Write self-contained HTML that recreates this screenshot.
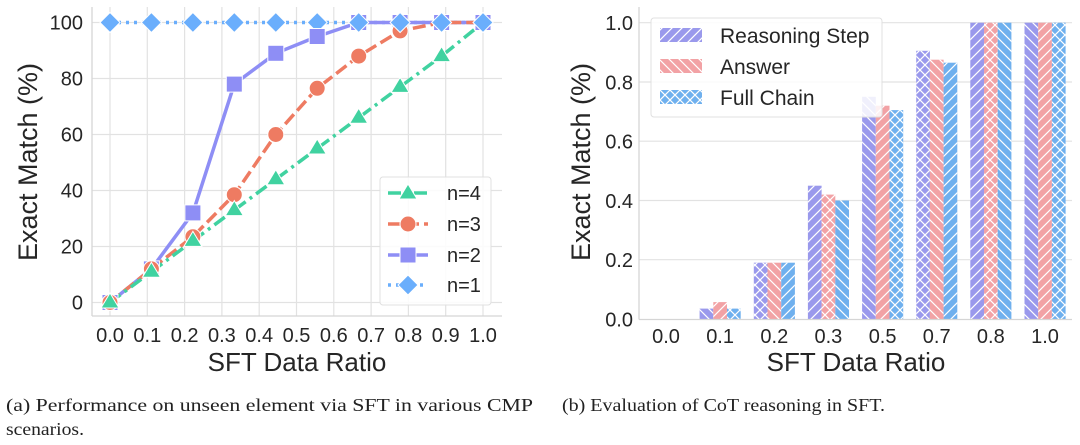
<!DOCTYPE html>
<html><head><meta charset="utf-8"><style>
html,body{margin:0;padding:0;background:#fff;width:1080px;height:445px;overflow:hidden}
svg{display:block}
.t{font-family:"Liberation Sans",sans-serif;fill:#262626}
.c{font-family:"Liberation Serif",serif;fill:#222;font-size:18px}
</style></head><body>
<svg width="1080" height="445" viewBox="0 0 1080 445" xmlns="http://www.w3.org/2000/svg">
<defs>
<pattern id="pf" patternUnits="userSpaceOnUse" width="10" height="10"><path d="M-2,2 L2,-2 M0,10 L10,0 M8,12 L12,8" stroke="#fff" stroke-width="1.2"/></pattern>
<pattern id="pb" patternUnits="userSpaceOnUse" width="10" height="10"><path d="M-2,8 L2,12 M0,0 L10,10 M8,-2 L12,2" stroke="#fff" stroke-width="1.2"/></pattern>
<pattern id="px" patternUnits="userSpaceOnUse" width="10" height="10"><path d="M-2,2 L2,-2 M0,10 L10,0 M8,12 L12,8 M-2,8 L2,12 M0,0 L10,10 M8,-2 L12,2" stroke="#fff" stroke-width="1.2"/></pattern>
</defs>

<!-- LEFT CHART -->
<g stroke="#e2e2e2" stroke-width="1.2">
<line x1="92" y1="302.5" x2="502" y2="302.5"/><line x1="92" y1="246.5" x2="502" y2="246.5"/><line x1="92" y1="190.5" x2="502" y2="190.5"/><line x1="92" y1="134.5" x2="502" y2="134.5"/><line x1="92" y1="78.5" x2="502" y2="78.5"/><line x1="92" y1="22.5" x2="502" y2="22.5"/>
<line x1="110" y1="7" x2="110" y2="316"/><line x1="147.3" y1="7" x2="147.3" y2="316"/><line x1="184.6" y1="7" x2="184.6" y2="316"/><line x1="221.9" y1="7" x2="221.9" y2="316"/><line x1="259.2" y1="7" x2="259.2" y2="316"/><line x1="296.5" y1="7" x2="296.5" y2="316"/><line x1="333.8" y1="7" x2="333.8" y2="316"/><line x1="371.1" y1="7" x2="371.1" y2="316"/><line x1="408.4" y1="7" x2="408.4" y2="316"/><line x1="445.7" y1="7" x2="445.7" y2="316"/><line x1="483" y1="7" x2="483" y2="316"/>
</g>
<g stroke="#d5d5d5" stroke-width="1.3"><line x1="92" y1="7" x2="92" y2="316"/><line x1="92" y1="316" x2="502" y2="316"/></g>

<g fill="none" stroke-width="3.5">
<polyline stroke="#6aaefc" stroke-dasharray="3,5" points="110,22.5 483,22.5"/>
<polyline stroke="#8e8ef5" points="110,302.5 151.4,268.9 192.9,212.9 234.3,84.1 275.8,53.3 317.2,36.5 358.7,22.5 400.1,22.5 441.6,22.5 483,22.5"/>
<polyline stroke="#ee7b62" stroke-dasharray="13,5" points="110,302.5 151.4,268.9 192.9,236.7 234.3,194.7 275.8,134.5 317.2,88.3 358.7,56.1 400.1,30.9 441.6,22.5 483,22.5"/>
<polyline stroke="#40d2a0" stroke-dasharray="13,5,3,5" points="110,302.5 151.4,271.7 192.9,240.9 234.3,210.1 275.8,179.3 317.2,148.5 358.7,117.7 400.1,86.9 441.6,56.1 483,22.5"/>
</g>
<g stroke="#fff" stroke-width="1">
<g fill="#6aaefc"><path d="M110,12.5l10,10-10,10-10-10z"/><path d="M151.4,12.5l10,10-10,10-10-10z"/><path d="M192.9,12.5l10,10-10,10-10-10z"/><path d="M234.3,12.5l10,10-10,10-10-10z"/><path d="M275.8,12.5l10,10-10,10-10-10z"/><path d="M317.2,12.5l10,10-10,10-10-10z"/></g>
<g fill="#8e8ef5"><rect x="102" y="294.5" width="16" height="16"/><rect x="143.4" y="260.9" width="16" height="16"/><rect x="184.9" y="204.9" width="16" height="16"/><rect x="226.3" y="76.1" width="16" height="16"/><rect x="267.8" y="45.3" width="16" height="16"/><rect x="309.2" y="28.5" width="16" height="16"/><rect x="350.7" y="14.5" width="16" height="16"/><rect x="392.1" y="14.5" width="16" height="16"/><rect x="433.6" y="14.5" width="16" height="16"/><rect x="475" y="14.5" width="16" height="16"/></g>
<g fill="#ee7b62"><circle cx="110" cy="302.5" r="8"/><circle cx="151.4" cy="268.9" r="8"/><circle cx="192.9" cy="236.7" r="8"/><circle cx="234.3" cy="194.7" r="8"/><circle cx="275.8" cy="134.5" r="8"/><circle cx="317.2" cy="88.3" r="8"/><circle cx="358.7" cy="56.1" r="8"/><circle cx="400.1" cy="30.9" r="8"/></g>
<g fill="#40d2a0"><path d="M110,293l9,15h-18z"/><path d="M151.4,262.2l9,15h-18z"/><path d="M192.9,231.4l9,15h-18z"/><path d="M234.3,200.6l9,15h-18z"/><path d="M275.8,169.8l9,15h-18z"/><path d="M317.2,139l9,15h-18z"/><path d="M358.7,108.2l9,15h-18z"/><path d="M400.1,77.4l9,15h-18z"/><path d="M441.6,46.6l9,15h-18z"/></g>
<g fill="#6aaefc"><path d="M358.7,12.5l10,10-10,10-10-10z"/><path d="M400.1,12.5l10,10-10,10-10-10z"/><path d="M441.6,12.5l10,10-10,10-10-10z"/><path d="M483,12.5l10,10-10,10-10-10z"/></g>
</g>

<g class="t" font-size="20" text-anchor="end">
<text x="83" y="309.5">0</text><text x="83" y="253.5">20</text><text x="83" y="197.5">40</text><text x="83" y="141.5">60</text><text x="83" y="85.5">80</text><text x="83" y="29.5">100</text>
</g>
<g class="t" font-size="20" text-anchor="middle">
<text x="110" y="342">0.0</text><text x="147.3" y="342">0.1</text><text x="184.6" y="342">0.2</text><text x="221.9" y="342">0.3</text><text x="259.2" y="342">0.4</text><text x="296.5" y="342">0.5</text><text x="333.8" y="342">0.6</text><text x="371.1" y="342">0.7</text><text x="408.4" y="342">0.8</text><text x="445.7" y="342">0.9</text><text x="483" y="342">1.0</text>
</g>
<text class="t" font-size="26" text-anchor="middle" x="297" y="371">SFT Data Ratio</text>
<text class="t" font-size="27" text-anchor="middle" transform="translate(37,162) rotate(-90)">Exact Match (%)</text>

<rect x="380" y="177" width="111" height="128" rx="3" fill="#fff" fill-opacity="0.85" stroke="#e0e0e0"/>
<g fill="none" stroke-width="3.5">
<line x1="388" y1="193" x2="428" y2="193" stroke="#40d2a0" stroke-dasharray="13,5,3,5"/>
<line x1="388" y1="224" x2="428" y2="224" stroke="#ee7b62" stroke-dasharray="13,5"/>
<line x1="388" y1="255" x2="428" y2="255" stroke="#8e8ef5"/>
<line x1="388" y1="285" x2="428" y2="285" stroke="#6aaefc" stroke-dasharray="3,5"/>
</g>
<g stroke="#fff" stroke-width="1">
<path d="M408,184l9,15h-18z" fill="#40d2a0"/>
<circle cx="408" cy="224" r="8" fill="#ee7b62"/>
<rect x="400" y="247" width="16" height="16" fill="#8e8ef5"/>
<path d="M408,275l10,10-10,10-10-10z" fill="#6aaefc"/>
</g>
<g class="t" font-size="20"><text x="447" y="200">n=4</text><text x="447" y="231">n=3</text><text x="447" y="262">n=2</text><text x="447" y="292">n=1</text></g>

<!-- RIGHT CHART -->
<g stroke="#e2e2e2" stroke-width="1.2">
<line x1="639" y1="259.7" x2="1072" y2="259.7"/><line x1="639" y1="200.5" x2="1072" y2="200.5"/><line x1="639" y1="141.2" x2="1072" y2="141.2"/><line x1="639" y1="82" x2="1072" y2="82"/><line x1="639" y1="22.7" x2="1072" y2="22.7"/>
</g>

<g>
<rect x="699.6" y="308.6" width="13.7" height="10.4" fill="#9a99ec"/><rect x="699.6" y="308.6" width="13.7" height="10.4" fill="url(#pb)"/>
<rect x="713.3" y="302.1" width="13.7" height="16.9" fill="#f2a2a5"/><rect x="713.3" y="302.1" width="13.7" height="16.9" fill="url(#pf)"/>
<rect x="727" y="308.6" width="13.7" height="10.4" fill="#6fb0ee"/><rect x="727" y="308.6" width="13.7" height="10.4" fill="url(#px)"/>
<rect x="753.8" y="262.7" width="13.7" height="56.3" fill="#9a99ec"/><rect x="753.8" y="262.7" width="13.7" height="56.3" fill="url(#px)"/>
<rect x="767.5" y="262.7" width="13.7" height="56.3" fill="#f2a2a5"/><rect x="767.5" y="262.7" width="13.7" height="56.3" fill="url(#pb)"/>
<rect x="781.2" y="262.7" width="13.7" height="56.3" fill="#6fb0ee"/><rect x="781.2" y="262.7" width="13.7" height="56.3" fill="url(#pf)"/>
<rect x="807.9" y="185.7" width="13.7" height="133.3" fill="#9a99ec"/><rect x="807.9" y="185.7" width="13.7" height="133.3" fill="url(#pf)"/>
<rect x="821.6" y="194.6" width="13.7" height="124.4" fill="#f2a2a5"/><rect x="821.6" y="194.6" width="13.7" height="124.4" fill="url(#px)"/>
<rect x="835.3" y="200.5" width="13.7" height="118.5" fill="#6fb0ee"/><rect x="835.3" y="200.5" width="13.7" height="118.5" fill="url(#pb)"/>
<rect x="862.1" y="96.8" width="13.7" height="222.2" fill="#9a99ec"/><rect x="862.1" y="96.8" width="13.7" height="222.2" fill="url(#pb)"/>
<rect x="875.8" y="105.7" width="13.7" height="213.3" fill="#f2a2a5"/><rect x="875.8" y="105.7" width="13.7" height="213.3" fill="url(#pf)"/>
<rect x="889.5" y="110.1" width="13.7" height="208.9" fill="#6fb0ee"/><rect x="889.5" y="110.1" width="13.7" height="208.9" fill="url(#px)"/>
<rect x="916.2" y="50.8" width="13.7" height="268.2" fill="#9a99ec"/><rect x="916.2" y="50.8" width="13.7" height="268.2" fill="url(#px)"/>
<rect x="929.9" y="59.7" width="13.7" height="259.3" fill="#f2a2a5"/><rect x="929.9" y="59.7" width="13.7" height="259.3" fill="url(#pb)"/>
<rect x="943.6" y="62.7" width="13.7" height="256.3" fill="#6fb0ee"/><rect x="943.6" y="62.7" width="13.7" height="256.3" fill="url(#pf)"/>
<rect x="970.3" y="22.7" width="13.7" height="296.3" fill="#9a99ec"/><rect x="970.3" y="22.7" width="13.7" height="296.3" fill="url(#pf)"/>
<rect x="984" y="22.7" width="13.7" height="296.3" fill="#f2a2a5"/><rect x="984" y="22.7" width="13.7" height="296.3" fill="url(#px)"/>
<rect x="997.7" y="22.7" width="13.7" height="296.3" fill="#6fb0ee"/><rect x="997.7" y="22.7" width="13.7" height="296.3" fill="url(#pb)"/>
<rect x="1024.5" y="22.7" width="13.7" height="296.3" fill="#9a99ec"/><rect x="1024.5" y="22.7" width="13.7" height="296.3" fill="url(#pb)"/>
<rect x="1038.2" y="22.7" width="13.7" height="296.3" fill="#f2a2a5"/><rect x="1038.2" y="22.7" width="13.7" height="296.3" fill="url(#pf)"/>
<rect x="1051.9" y="22.7" width="13.7" height="296.3" fill="#6fb0ee"/><rect x="1051.9" y="22.7" width="13.7" height="296.3" fill="url(#px)"/>
</g>
<g stroke="#d5d5d5" stroke-width="1.3"><line x1="639" y1="7" x2="639" y2="319.5"/><line x1="639" y1="319.5" x2="1072" y2="319.5"/></g>

<g class="t" font-size="20" text-anchor="end">
<text x="633" y="326.5">0.0</text><text x="633" y="267.2">0.2</text><text x="633" y="208">0.4</text><text x="633" y="148.7">0.6</text><text x="633" y="89.5">0.8</text><text x="633" y="30.2">1.0</text>
</g>
<g class="t" font-size="20" text-anchor="middle">
<text x="666" y="343">0.0</text><text x="720.1" y="343">0.1</text><text x="774.3" y="343">0.2</text><text x="828.4" y="343">0.3</text><text x="882.6" y="343">0.5</text><text x="936.7" y="343">0.7</text><text x="990.8" y="343">0.8</text><text x="1045" y="343">1.0</text>
</g>
<text class="t" font-size="26" text-anchor="middle" x="856" y="371">SFT Data Ratio</text>
<text class="t" font-size="27" text-anchor="middle" transform="translate(590,162) rotate(-90)">Exact Match (%)</text>

<rect x="651" y="18" width="231" height="99" rx="3" fill="#fff" fill-opacity="0.85" stroke="#e0e0e0"/>
<rect x="660" y="28" width="42" height="14" fill="#9a99ec"/><rect x="660" y="28" width="42" height="14" fill="url(#pf)"/>
<rect x="660" y="59" width="42" height="14" fill="#f2a2a5"/><rect x="660" y="59" width="42" height="14" fill="url(#pb)"/>
<rect x="660" y="90" width="42" height="14" fill="#6fb0ee"/><rect x="660" y="90" width="42" height="14" fill="url(#px)"/>
<g class="t" font-size="21"><text x="720" y="43">Reasoning Step</text><text x="720" y="74">Answer</text><text x="720" y="105">Full Chain</text></g>

<text class="c" x="6" y="411" textLength="527" lengthAdjust="spacingAndGlyphs">(a) Performance on unseen element via SFT in various CMP</text>
<text class="c" x="6" y="435" textLength="78" lengthAdjust="spacingAndGlyphs">scenarios.</text>
<text class="c" x="562" y="411" textLength="323" lengthAdjust="spacingAndGlyphs">(b) Evaluation of CoT reasoning in SFT.</text>
</svg>
</body></html>
